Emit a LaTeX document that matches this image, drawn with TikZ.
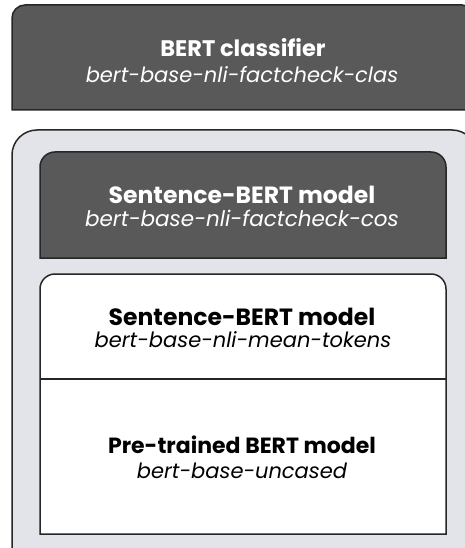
\documentclass[tikz,border=0pt]{standalone}
\usepackage{fontspec}
\setmainfont{Poppins}
\definecolor{darkfill}{HTML}{595959}
\definecolor{panelfill}{HTML}{E3E4E9}
\definecolor{edge}{HTML}{262626}
\newcommand{\fsz}[1]{\fontsize{#1}{#1}\selectfont}
\begin{document}
\begin{tikzpicture}[x=1pt,y=-1pt,
  frame/.style={draw=edge,line width=1.5pt},
  title/.style={anchor=base,font=\bfseries},
  subtitle/.style={anchor=base,font=\itshape}]
\useasboundingbox (0,0) rectangle (465,548);
\clip (0,0) rectangle (465,548);
% top classifier block
\draw[frame,fill=darkfill] (12,110) -- (12,18) arc[start angle=180,end angle=270,radius=13]
  -- (462,5) arc[start angle=270,end angle=360,radius=13] -- (475,110) -- cycle;
\node[title,text=white] (clsname) at (243,57) {\fsz{22.5}BERT classifier};
\node[subtitle,text=white] (clsid) at (242,83) {\fsz{21}bert-base-nli-factcheck-clas};
% grey panel holding the sentence models
\draw[frame,fill=panelfill] (12,560) -- (12,155) arc[start angle=180,end angle=270,radius=25]
  -- (452,130) arc[start angle=270,end angle=360,radius=25] -- (477,560) -- cycle;
% fine-tuned sentence model
\draw[frame,fill=darkfill] (40,258) -- (40,167) arc[start angle=180,end angle=270,radius=15]
  -- (431,152) arc[start angle=270,end angle=360,radius=15] -- (446,258) -- cycle;
\node[title,text=white] (sbname) at (242,203) {\fsz{23.5}Sentence-BERT model};
\node[subtitle,text=white] (sbid) at (242,226) {\fsz{21.5}bert-base-nli-factcheck-cos};
% base sentence model stacked on pre-trained BERT
\draw[frame,fill=white] (40,534) -- (40,289) arc[start angle=180,end angle=270,radius=15]
  -- (431,274) arc[start angle=270,end angle=360,radius=15] -- (446,534) -- cycle;
\draw[frame] (40,379) -- (446,379);
\node[title,text=black] (mtname) at (242,325) {\fsz{23.5}Sentence-BERT model};
\node[subtitle,text=black] (mtid) at (243,347) {\fsz{21}bert-base-nli-mean-tokens};
\node[title,text=black] (ptname) at (242,453) {\fsz{22}Pre-trained BERT model};
\node[subtitle,text=black] (ptid) at (242,478) {\fsz{21}bert-base-uncased};
\end{tikzpicture}
\end{document}
